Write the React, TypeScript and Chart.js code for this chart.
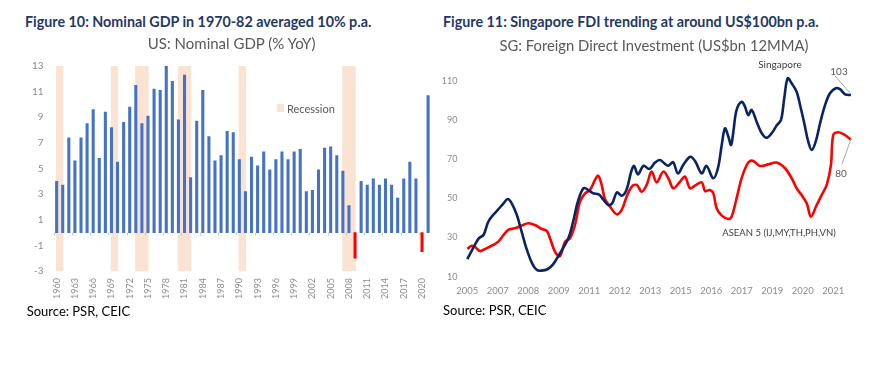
import React, { useEffect, useRef } from 'react';
import { Chart, registerables } from 'chart.js';

Chart.register(...registerables);

// ---------- Figure 10 data ----------
const gdpYears = [
  1960, 1961, 1962, 1963, 1964, 1965, 1966, 1967, 1968, 1969,
  1970, 1971, 1972, 1973, 1974, 1975, 1976, 1977, 1978, 1979,
  1980, 1981, 1982, 1983, 1984, 1985, 1986, 1987, 1988, 1989,
  1990, 1991, 1992, 1993, 1994, 1995, 1996, 1997, 1998, 1999,
  2000, 2001, 2002, 2003, 2004, 2005, 2006, 2007, 2008, 2009,
  2010, 2011, 2012, 2013, 2014, 2015, 2016, 2017, 2018, 2019, 2020, 2021,
];
const gdpValues = [
  4.0, 3.7, 7.4, 5.6, 7.4, 8.5, 9.6, 5.8, 9.4, 8.2,
  5.5, 8.6, 9.8, 11.5, 8.5, 9.1, 11.2, 11.1, 13.0, 11.8,
  8.8, 12.3, 4.3, 8.7, 11.1, 7.5, 5.6, 6.0, 7.9, 7.8,
  5.7, 3.2, 5.9, 5.2, 6.3, 4.9, 5.7, 6.3, 5.7, 6.3,
  6.5, 3.2, 3.3, 4.9, 6.6, 6.7, 6.0, 4.8, 2.1, -2.0,
  4.0, 3.7, 4.2, 3.7, 4.2, 3.7, 2.7, 4.2, 5.5, 4.2, -1.5, 10.7,
];
const gdpTickLabels = [
  '1960', '1963', '1966', '1969', '1972', '1975', '1978', '1981', '1984', '1987', '1990',
  '1993', '1996', '1999', '2002', '2005', '2008', '2011', '2014', '2017', '2020',
];
const gdpYTicks = [13, 11, 9, 7, 5, 3, 1, -1, -3];
const recessionStart = [1960, 1969, 1973, 1980, 1990, 2007];
const recessionEnd = [1961, 1970, 1975, 1982, 1991, 2009];
const recessionRange = [-3, 13];

// ---------- Figure 11 data (x = months since Sep 2005) ----------
const sgMonths = [
  0, 3, 6, 8.5, 11, 13.5, 16, 19, 21.2, 23.3, 26, 28.5, 31, 34, 36.5, 39, 42, 45, 48.5, 53,
  55.5, 58, 61, 63.5, 66, 69, 71.5, 74, 76, 78.5, 81, 83.5, 86, 87.5, 89.5, 92.5, 95.5, 98.5,
  101, 104, 105.5, 108, 110.5, 113.5, 117, 119.5, 123, 125.5, 129, 131.5, 133.5, 135.2, 137,
  138.4, 139.6, 141.3, 144, 145.7, 147.4, 149.2, 151.8, 154.5, 157, 159.7, 162.3, 164.6, 166.3,
  168.1, 170.2, 172.8, 174.6, 176.8, 178.9, 180.7, 182.8, 185.1, 187.7, 190.3, 193.3, 195.5,
  198.2, 201.3,
];
const sgValues = [
  19.0, 24.5, 29.6, 31.3, 38.1, 41.5, 44.1, 47.5, 49.7, 47.5, 41.5, 33.0, 24.5, 16.8, 13.4, 13.1, 13.8, 16.3, 21.8, 29.6,
  38.1, 48.3, 55.2, 54.3, 52.6, 52.1, 49.2, 46.6, 47.5, 53.1, 51.4, 54.3, 63.7, 66.6, 62.3, 66.7, 65.0, 68.3,
  69.6, 67.4, 66.7, 68.5, 62.8, 67.4, 71.3, 69.1, 62.8, 66.6, 60.3, 65.4, 77.3, 85.8, 81.5,
  77.3, 84.1, 95.2, 99.4, 96.9, 92.6, 95.2, 89.2, 83.3, 81.0, 83.3, 87.2, 90.1, 101.2,
  111.4, 108.8, 104.5, 97.7, 88.4, 79.0, 74.7, 79.0, 88.4, 97.7, 103.7, 106.3, 105.8,
  103.2, 102.8,
];
const aseanMonths = [
  0, 2.3, 4, 6.7, 10, 13.5, 16.3, 19, 21.5, 25, 28.5, 32, 35.5, 39, 41.7, 43.4, 46, 48.6, 51.3, 53.9,
  56.5, 59.1, 61.8, 64.4, 67, 68.7, 70.5, 72.2, 74.9, 78.4, 81, 83.6, 86.3, 88.9, 91.5, 94.1, 96.7, 99.4,
  102.8, 105.5, 108.1, 111.6, 114.2, 116.8, 119.4, 123, 124.7, 127.3, 129.1, 130.8, 133.5, 136.9, 138.7,
  141.3, 143.9, 146.6, 148.3, 150.1, 153.6, 157.9, 162.3, 166.7, 170.2, 172.8, 175.4, 178.1, 180.3,
  183.3, 185.9, 188.6, 190.8, 192, 194.6, 198.1, 201.3,
];
const aseanValues = [
  24.2, 25.8, 25.3, 23.1, 24.5, 26.2, 27.9, 31.3, 33.9, 34.7, 36.1, 37.3, 36.4, 34.4, 33.4, 29.6, 22.8, 20.5, 27.9, 29.6,
  36.4, 48.3, 52.6, 54.3, 59.4, 61.6, 56.9, 49.7, 45.8, 41.9, 44.1, 50.9, 56.0, 56.9, 53.4, 56.9, 63.7, 58.2,
  63.7, 60.3, 55.2, 58.5, 61.1, 55.2, 56.5, 58.2, 53.8, 54.3, 52.6, 45.0, 41.2, 39.5, 40.7,
  50.1, 60.3, 67.1, 69.1, 69.1, 66.6, 67.4, 68.3, 65.4, 60.3, 55.2, 51.7, 47.5, 40.7,
  46.6, 51.7, 56.9, 67.1, 82.4, 83.8, 82.4, 79.9,
];
const fdiTickLabels = ['2005', '2007', '2008', '2009', '2011', '2012', '2013', '2015', '2016', '2017', '2019', '2020', '2021'];
const fdiTickInterval = 16; // months between labels
const fdiYTicks = [10, 30, 50, 70, 90, 110];

const FONT = "Lato, 'Noto Sans', sans-serif";
const TICK_COLOR = '#8C8C8C';

function GdpChart() {
  const ref = useRef<HTMLCanvasElement>(null);
  useEffect(() => {
    if (!ref.current) return;
    const bars = gdpValues.map((v, i) => ({ x: gdpYears[i], y: v }));
    const rec2: any[] = [];
    const rec3: any[] = [];
    recessionStart.forEach((s, i) => {
      const e = recessionEnd[i];
      const pt = { x: (s + e) / 2, y: recessionRange };
      (e - s === 1 ? rec2 : rec3).push(pt);
    });
    const zeroTicks = {
      id: 'zeroTicks',
      afterDatasetsDraw(chart: any) {
        const xs = chart.scales.x;
        const ys = chart.scales.y;
        const y0 = ys.getPixelForValue(0);
        const c = chart.ctx;
        c.save();
        c.strokeStyle = '#C8C8C8';
        c.lineWidth = 1;
        gdpTickLabels.forEach((l) => {
          const x = Math.round(xs.getPixelForValue(Number(l) - 0.5)) + 0.5;
          c.beginPath();
          c.moveTo(x, y0);
          c.lineTo(x, y0 + 3);
          c.stroke();
        });
        c.restore();
      },
    };
    const chart = new Chart(ref.current, {
      type: 'bar',
      data: {
        datasets: [
          {
            data: bars as any,
            backgroundColor: gdpValues.map((v) => (v < 0 ? '#FF0000' : '#4472C4')),
            barThickness: 2.4,
            grouped: false,
            order: 1,
          },
          { data: rec2 as any, backgroundColor: '#FBE3D3', barThickness: 6.8, grouped: false, order: 2 },
          { data: rec3 as any, backgroundColor: '#FBE3D3', barThickness: 12.9, grouped: false, order: 3 },
        ],
      },
      plugins: [zeroTicks],
      options: {
        animation: false,
        responsive: false,
        maintainAspectRatio: false,
        layout: { padding: { top: 11, right: 7, left: 0, bottom: 0 } },
        plugins: { legend: { display: false }, tooltip: { enabled: false } },
        scales: {
          x: {
            type: 'linear',
            offset: false,
            min: 1959.5,
            max: 2021.5,
            grid: { display: false, drawTicks: false },
            border: { display: false },
            afterBuildTicks: (s: any) => {
              s.ticks = gdpTickLabels.map((l) => ({ value: Number(l) }));
            },
            afterFit: (s: any) => {
              s.height = 39;
            },
            ticks: {
              minRotation: 90,
              maxRotation: 90,
              padding: 7,
              autoSkip: false,
              color: TICK_COLOR,
              font: { family: FONT, size: 9 },
              callback: (_v: any, i: number) => gdpTickLabels[i],
            },
          },
          y: {
            min: -3,
            max: 13,
            afterBuildTicks: (s: any) => {
              s.ticks = gdpYTicks.map((v) => ({ value: v }));
            },
            afterFit: (s: any) => {
              s.width = 53.6;
            },
            grid: {
              drawTicks: false,
              color: (c: any) => (c.tick && c.tick.value === 0 ? '#D0D0D0' : 'rgba(0,0,0,0)'),
            },
            border: { display: false },
            ticks: {
              padding: 10,
              color: TICK_COLOR,
              font: { family: FONT, size: 10 },
              callback: (v: any) => String(v),
            },
          },
        },
      },
    });
    return () => chart.destroy();
  }, []);
  return (
    <canvas
      ref={ref}
      width={440}
      height={260}
      style={{ position: 'absolute', left: 0, top: 50, width: 440, height: 260 }}
    />
  );
}

function FdiChart() {
  const ref = useRef<HTMLCanvasElement>(null);
  useEffect(() => {
    if (!ref.current) return;
    const sg = sgMonths.map((m, i) => ({ x: m, y: sgValues[i] }));
    const asean = aseanMonths.map((m, i) => ({ x: m, y: aseanValues[i] }));
    const chart = new Chart(ref.current, {
      type: 'line',
      data: {
        datasets: [
          { data: sg as any, borderColor: '#0A2463', borderWidth: 2.6, pointRadius: 0, tension: 0.35, fill: false },
          { data: asean as any, borderColor: '#FF0000', borderWidth: 2.6, pointRadius: 0, tension: 0.35, fill: false },
        ],
      },
      options: {
        animation: false,
        responsive: false,
        maintainAspectRatio: false,
        layout: { padding: { top: 21.2, right: 22.9, left: 0, bottom: 0 } },
        plugins: { legend: { display: false }, tooltip: { enabled: false } },
        scales: {
          x: {
            type: 'linear',
            min: -2,
            max: 204,
            grid: { display: false, drawTicks: false },
            border: { display: false },
            afterBuildTicks: (s: any) => {
              s.ticks = fdiTickLabels.map((_l, i) => ({ value: i * fdiTickInterval }));
            },
            afterFit: (s: any) => {
              s.height = 33.3;
            },
            ticks: {
              maxRotation: 0,
              minRotation: 0,
              autoSkip: false,
              padding: 9,
              color: TICK_COLOR,
              font: { family: FONT, size: 9.5 },
              callback: (_v: any, i: number) => fdiTickLabels[i],
            },
          },
          y: {
            min: 10,
            max: 115,
            afterBuildTicks: (s: any) => {
              s.ticks = fdiYTicks.map((v) => ({ value: v }));
            },
            afterFit: (s: any) => {
              s.width = 23.5;
            },
            grid: { display: false, drawTicks: false },
            border: { display: false },
            ticks: {
              padding: 6,
              color: TICK_COLOR,
              font: { family: FONT, size: 9 },
              callback: (v: any) => String(v),
            },
          },
        },
      },
    });
    return () => chart.destroy();
  }, []);
  return (
    <canvas
      ref={ref}
      width={439}
      height={260}
      style={{ position: 'absolute', left: 440, top: 50, width: 439, height: 260 }}
    />
  );
}

function Txt(props: {
  x: number;
  y: number;
  children: React.ReactNode;
  size: number;
  color?: string;
  bold?: boolean;
  center?: boolean;
  spacing?: number;
}) {
  return (
    <div
      style={{
        position: 'absolute',
        left: props.x,
        top: props.y,
        transform: `translate(${props.center ? '-50%' : '0'}, -50%)`,
        whiteSpace: 'nowrap',
        lineHeight: 1,
        fontFamily: FONT,
        fontSize: props.size,
        fontWeight: props.bold ? 700 : 400,
        color: props.color || '#000',
        letterSpacing: props.spacing || 0,
      }}
    >
      {props.children}
    </div>
  );
}

export default function App() {
  return (
    <div
      style={{
        position: 'fixed',
        left: 0,
        top: 0,
        width: 879,
        height: 369,
        background: '#fff',
        overflow: 'hidden',
      }}
    >
      <GdpChart />
      <FdiChart />
      <Txt x={25} y={22} size={14.3} bold color="#1F3864">
        Figure 10: Nominal GDP in 1970-82 averaged 10% p.a.
      </Txt>
      <Txt x={231.7} y={43.3} size={15} center color="#595959">
        US: Nominal GDP (% YoY)
      </Txt>
      <Txt x={443} y={21.5} size={14.3} bold color="#1F3864">
        Figure 11: Singapore FDI trending at around US$100bn p.a.
      </Txt>
      <Txt x={654} y={45} size={14.8} center color="#595959">
        SG: Foreign Direct Investment (US$bn 12MMA)
      </Txt>
      <Txt x={26.7} y={311} size={13}>
        Source: PSR, CEIC
      </Txt>
      <Txt x={443} y={310} size={13}>
        Source: PSR, CEIC
      </Txt>
      <div
        style={{ position: 'absolute', left: 277, top: 104, width: 7, height: 8, background: '#FBE3D3' }}
      />
      <Txt x={287} y={108} size={11} color="#595959">
        Recession
      </Txt>
      <Txt x={780} y={64} size={10} center color="#404040">
        Singapore
      </Txt>
      <Txt x={839} y={70.7} size={10} center color="#595959">
        103
      </Txt>
      <Txt x={841} y={173} size={10} center color="#595959">
        80
      </Txt>
      <Txt x={779} y={232.7} size={9.5} center color="#404040">
        ASEAN 5 (IJ,MY,TH,PH,VN)
      </Txt>
      <svg
        width={879}
        height={369}
        style={{ position: 'absolute', left: 0, top: 0, pointerEvents: 'none' }}
      >
        <line x1={835} y1={76} x2={851} y2={94} stroke="#A6A6A6" strokeWidth={1} />
        <line x1={842} y1={164} x2={851} y2={139} stroke="#A6A6A6" strokeWidth={1} />
      </svg>
    </div>
  );
}
